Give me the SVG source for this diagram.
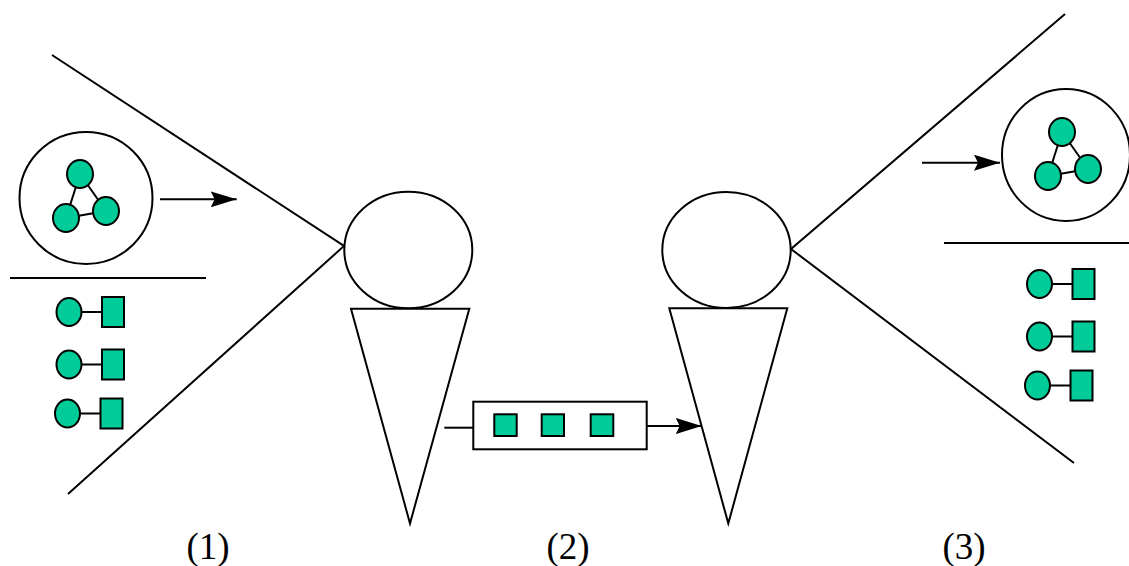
<svg xmlns="http://www.w3.org/2000/svg" width="1129" height="566" viewBox="0 0 1129 566">
  <defs>
    <style>
      .ln { stroke: #000; stroke-width: 2; fill: none; }
      .out { stroke: #000; stroke-width: 2; fill: #fff; }
      .g { stroke: #000; stroke-width: 2; fill: #00CC99; }
      .lbl { font-family: "Liberation Serif", "Times New Roman", serif; font-size: 37px; fill: #000; text-anchor: middle; }
    </style>
    <marker id="arrowBig" viewBox="0 0 26 16" refX="26" refY="8" markerWidth="26" markerHeight="16" markerUnits="userSpaceOnUse" orient="auto">
      <path d="M0,0 L26,8 L0,16 L4,8 z" fill="#000"/>
    </marker>
    <!-- knowledge graph of three linked nodes -->
    <g id="graph3">
      <line class="ln" x1="0" y1="0" x2="-14" y2="44"/>
      <line class="ln" x1="0" y1="0" x2="26" y2="37"/>
      <line class="ln" x1="-14" y1="44" x2="26" y2="37"/>
      <ellipse class="g" cx="0" cy="0" rx="13" ry="14"/>
      <ellipse class="g" cx="-14" cy="44" rx="13" ry="14"/>
      <ellipse class="g" cx="26" cy="37" rx="13" ry="14"/>
    </g>
    <!-- node paired with a record -->
    <g id="pair">
      <line class="ln" x1="0" y1="0" x2="33" y2="0"/>
      <ellipse class="g" cx="0" cy="0" rx="12.5" ry="14"/>
      <rect class="g" x="33" y="-15" width="22" height="30"/>
    </g>
  </defs>

  <!-- left agent's view -->
  <g id="view-left">
    <polyline class="ln" points="52,55 344,246 68,494"/>
    <ellipse class="out" cx="86" cy="198" rx="66.5" ry="66"/>
    <use href="#graph3" x="80" y="174"/>
    <line class="ln" x1="10" y1="278" x2="206" y2="278"/>
    <use href="#pair" x="69" y="312"/>
    <use href="#pair" x="69" y="364.5"/>
    <use href="#pair" x="67.5" y="413.5"/>
  </g>

  <!-- right agent's view -->
  <g id="view-right">
    <polyline class="ln" points="1065,14 791,249 1074,463"/>
    <ellipse class="out" cx="1066" cy="155" rx="64" ry="66"/>
    <use href="#graph3" x="1062" y="132"/>
    <line class="ln" x1="944" y1="243" x2="1129" y2="243"/>
    <use href="#pair" x="1039.5" y="284"/>
    <use href="#pair" x="1039.5" y="336.5"/>
    <use href="#pair" x="1037.5" y="385.5"/>
  </g>

  <!-- left agent -->
  <g id="agent-left">
    <ellipse class="out" cx="408.3" cy="250" rx="64" ry="58.3"/>
    <polygon class="out" points="351,308.7 469.3,308.7 410,523.5"/>
  </g>

  <!-- right agent -->
  <g id="agent-right">
    <ellipse class="out" cx="726.5" cy="250" rx="64.2" ry="58"/>
    <polygon class="out" points="669.3,308.3 787.3,308.3 728.3,523.5"/>
  </g>

  <!-- message carrying three records -->
  <g id="message">
    <rect class="out" x="473.3" y="401.7" width="173.4" height="47.6"/>
    <rect class="g" x="494.3" y="414.3" width="22.4" height="21.7"/>
    <rect class="g" x="541.7" y="414.3" width="22.3" height="21.7"/>
    <rect class="g" x="590.7" y="414.3" width="22.6" height="21.7"/>
  </g>

  <!-- connectors -->
  <g id="connectors">
    <line class="ln" x1="160" y1="199.3" x2="236.7" y2="199.3" marker-end="url(#arrowBig)"/>
    <line class="ln" x1="922" y1="162.7" x2="1000" y2="162.7" marker-end="url(#arrowBig)"/>
    <line class="ln" x1="444.3" y1="427.7" x2="473.3" y2="427.7"/>
    <line class="ln" x1="646.7" y1="426" x2="701.7" y2="426" marker-end="url(#arrowBig)"/>
  </g>

  <!-- stage labels -->
  <g id="labels">
    <text class="lbl" x="208" y="559">(1)</text>
    <text class="lbl" x="568" y="559">(2)</text>
    <text class="lbl" x="964" y="559">(3)</text>
  </g>
</svg>
